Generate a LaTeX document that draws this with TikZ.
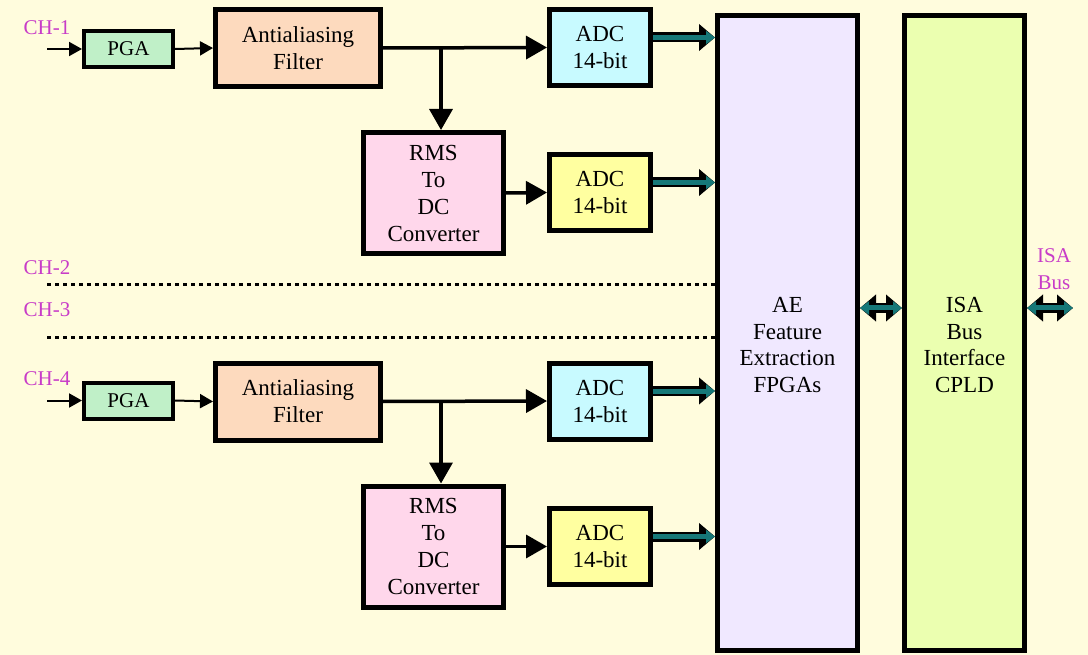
\documentclass[tikz,border=0pt]{standalone}
\usepackage{fontspec}
\setmainfont{Liberation Serif}
\usetikzlibrary{arrows.meta}

\definecolor{bgcream}{HTML}{FFFCDD}
\definecolor{pgagreen}{HTML}{C0F0C8}
\definecolor{filtpeach}{HTML}{FDDABE}
\definecolor{adccyan}{HTML}{C8FAFF}
\definecolor{adcyellow}{HTML}{FFFFA0}
\definecolor{rmspink}{HTML}{FFD7EB}
\definecolor{aelav}{HTML}{F0E8FF}
\definecolor{isalime}{HTML}{EBFFB0}
\definecolor{busteal}{HTML}{167878}
\definecolor{chmag}{HTML}{C83CC8}

\tikzset{
	blk/.style={draw, line width=5pt, inner sep=0pt, align=center, font=\fontsize{23}{27}\selectfont},
	pgabox/.style={blk, fill=pgagreen, line width=4pt, minimum width=89pt, minimum height=36pt, font=\fontsize{21}{22}\selectfont},
	filtbox/.style={blk, fill=filtpeach, minimum width=165pt, minimum height=77pt},
	adcbox/.style={blk, minimum width=101pt, minimum height=76pt},
	rmsbox/.style={blk, fill=rmspink, minimum width=140pt, minimum height=121pt},
	tallbox/.style={blk, minimum height=635pt},
	boxtext/.style={align=center, inner sep=0pt, font=\fontsize{23}{26.5}\selectfont},
	sig/.style={line width=3.5pt, -{Triangle[length=21pt,width=23pt]}},
	thinsig/.style={line width=2pt, -{Triangle[length=13pt,width=14pt]}},
	bus/.style={line width=5pt, draw=busteal, -{Triangle[length=9pt,width=13pt]},
		preaction={draw=black, line width=10pt, -{Triangle[length=16pt,width=26pt]}}},
	dbus/.style={line width=5pt, draw=busteal, {Triangle[length=9pt,width=13pt]}-{Triangle[length=9pt,width=13pt]},
		preaction={draw=black, line width=10pt, {Triangle[length=16pt,width=26pt]}-{Triangle[length=16pt,width=26pt]}}},
	chdots/.style={line width=3pt, dash pattern=on 4pt off 4pt},
	chlabel/.style={text=chmag, inner sep=0pt, font=\fontsize{21}{27}\selectfont},
}

\begin{document}
\begin{tikzpicture}[x=1pt, y=-1pt]

	\useasboundingbox (0,0) rectangle (1088,655);
	\fill[bgcream] (0,0) rectangle (1088,655);

	% channel 1
	\node[chlabel] at (47,28) (ch1) {CH-1};
	\node[pgabox] at (128.5,49) (pga1) {PGA};
	\node[filtbox] at (298,48) (filt1) {Antialiasing\\Filter};
	\node[adcbox, fill=adccyan] at (600,47.5) (adc1a) {ADC\\14-bit};
	\node[rmsbox] at (433.5,193) (rms1) {RMS\\To\\DC\\Converter};
	\node[adcbox, fill=adcyellow] at (600,192.5) (adc1b) {ADC\\14-bit};

	% channels 2 and 3
	\node[chlabel] at (47,268) (ch2) {CH-2};
	\node[chlabel] at (47,310) (ch3) {CH-3};

	% channel 4
	\node[chlabel] at (47,379) (ch4) {CH-4};
	\node[pgabox] at (128.5,400.5) (pga4) {PGA};
	\node[filtbox] at (298,401.5) (filt4) {Antialiasing\\Filter};
	\node[adcbox, fill=adccyan] at (600,401) (adc4a) {ADC\\14-bit};
	\node[rmsbox] at (433.5,546.5) (rms4) {RMS\\To\\DC\\Converter};
	\node[adcbox, fill=adcyellow] at (600,546.5) (adc4b) {ADC\\14-bit};

	% fpga and cpld
	\node[tallbox, fill=aelav, minimum width=140pt] at (787.5,333) (ae) {};
	\node[boxtext] at (787.5,345) (aetext) {AE\\Feature\\Extraction\\FPGAs};
	\node[tallbox, fill=isalime, minimum width=120pt] at (964.5,333) (isa) {};
	\node[boxtext] at (964.5,345) (isatext) {ISA\\Bus\\Interface\\CPLD};
	\node[chlabel, align=center] at (1054,269) (isabus) {ISA\\Bus};

	\coordinate (in1) at (47,49);
	\coordinate (in4) at (47,400.5);
	\coordinate (br1) at (441,48);
	\coordinate (br4) at (441,401.5);
	\coordinate (d2) at (47,285);
	\coordinate (d3) at (47,338);
	\coordinate (busend) at (1073,308);

	\draw[thinsig] (in1) -- (pga1.west);
	\draw[thinsig] (pga1.east) -- (filt1.west);
	\draw[sig] (filt1.east) -- (adc1a.west);
	\draw[sig] (br1) -- (br1 |- rms1.north);
	\draw[sig] (rms1.east) -- (adc1b.west);
	\draw[bus] ([yshift=10pt]adc1a.east) -- ([yshift=10pt]adc1a.east -| ae.west);
	\draw[bus] ([yshift=10pt]adc1b.east) -- ([yshift=10pt]adc1b.east -| ae.west);

	\draw[chdots] (d2) -- (d2 -| ae.west);
	\draw[chdots] (d3) -- (d3 -| ae.west);

	\draw[thinsig] (in4) -- (pga4.west);
	\draw[thinsig] (pga4.east) -- (filt4.west);
	\draw[sig] (filt4.east) -- (adc4a.west);
	\draw[sig] (br4) -- (br4 |- rms4.north);
	\draw[sig] (rms4.east) -- (adc4b.west);
	\draw[bus] ([yshift=10pt]adc4a.east) -- ([yshift=10pt]adc4a.east -| ae.west);
	\draw[bus] ([yshift=10pt]adc4b.east) -- ([yshift=10pt]adc4b.east -| ae.west);

	\draw[dbus] ([yshift=25pt]ae.east) -- ([yshift=25pt]ae.east -| isa.west);
	\draw[dbus] (isa.east |- busend) -- (busend);

\end{tikzpicture}
\end{document}
